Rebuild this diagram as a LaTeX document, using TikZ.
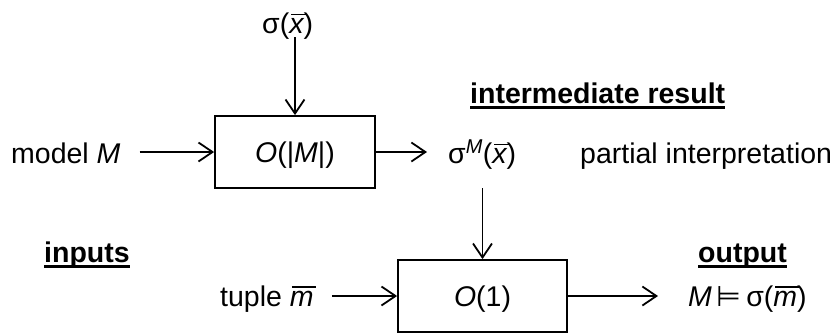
\documentclass[tikz,border=0pt]{standalone}
\usepackage{fontspec}
\setmainfont{Liberation Sans}
\newfontfamily\symfont{DejaVu Sans}
\usetikzlibrary{arrows.meta,calc}
\newcommand{\ovl}[1]{{\itshape\setbox0\hbox{#1}\rlap{\hspace{2pt}\raisebox{\dimexpr\ht0+3pt\relax}{\rule{\wd0}{1.4pt}}}\box0}}
\newcommand{\ulbold}[1]{{\bfseries\setbox0\hbox{#1}\rlap{\raisebox{-5.5pt}{\rule{\wd0}{3pt}}}\box0}}
\tikzset{
  txt/.style={inner sep=0pt, anchor=base west, font=\fontsize{28.5}{34}\selectfont},
  opbox/.style={draw, line width=1.8pt, inner sep=0pt, text height=20.4pt, text depth=0pt,
    font=\fontsize{28.5}{34}\selectfont},
  arr/.style={line width=1.8pt, -{Straight Barb[length=14pt, width=19pt, line width=1.8pt]}}
}
\begin{document}
\begin{tikzpicture}[x=1pt, y=-1pt]
\useasboundingbox (0,0) rectangle (836,333);
% boxes
\node[opbox, minimum width=160pt, minimum height=72pt] (b1) at (295,152) {\textit{O}(|\textit{M}|)};
\node[opbox, minimum width=169pt, minimum height=72pt] (b2) at (482.5,296) {\textit{O}(1)};
% texts
\node[txt] (sig) at (262,33) {σ(\ovl{x})};
\node[txt] (model) at (11,163) {model \textit{M}};
\node[txt] (sm) at (448,163) {σ\textsuperscript{\textit{M}}(\ovl{x})};
\node[txt] (partial) at (580,163) {partial interpretation};
\node[txt] (inter) at (470,103) {\ulbold{intermediate result}};
\node[txt] (inputs) at (44,262) {\ulbold{inputs}};
\node[txt] (output) at (698,262) {\ulbold{output}};
\node[txt] (tuple) at (220,306) {tuple \ovl{m}};
\node[txt] (res) at (688,306) {\textit{M}\,{\symfont ⊨}\,σ(\ovl{m})};
% connectors
\draw[arr] ($(b1.north |- sig.base)+(0,4)$) -- (b1.north);
\draw[arr] ($(model.base east |- b1.west)+(19,0)$) -- (b1.west);
\draw[arr] (b1.east) -- ($(sm.base west |- b1.east)+(-21,0)$);
\draw[arr] ($(b2.north |- sm.base)+(0,25)$) -- (b2.north);
\draw[arr] ($(tuple.base east |- b2.west)+(18,0)$) -- (b2.west);
\draw[arr] (b2.east) -- ($(res.base west |- b2.east)+(-30,0)$);
\end{tikzpicture}
\end{document}
